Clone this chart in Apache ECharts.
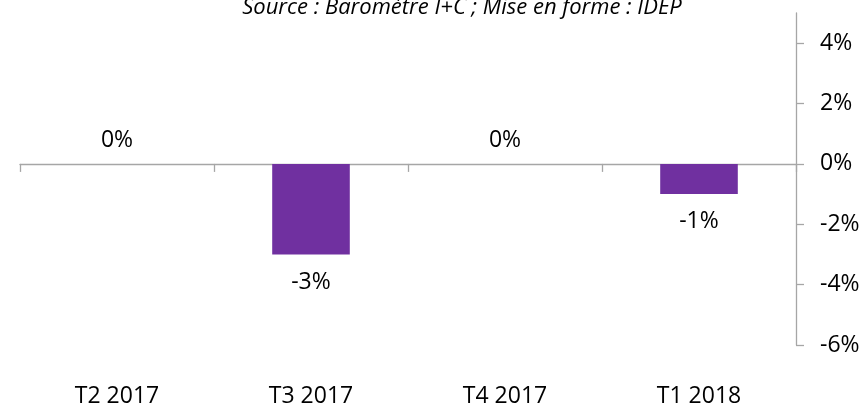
<!DOCTYPE html>
<html>
<head>
<meta charset="utf-8">
<script src="https://cdn.jsdelivr.net/npm/echarts@6/dist/echarts.min.js"></script>
<style>
html,body{margin:0;padding:0;background:#fff;}
#c{width:866px;height:408px;}
</style>
</head>
<body>
<div id="c"></div>
<script>
const categories = ['T2 2017', 'T3 2017', 'T4 2017', 'T1 2018'];
const values = [0, -3, 0, -1];
const yTicks = [-6, -4, -2, 0, 2, 4];
const titleText = 'Source : Baromètre I+C ; Mise en forme : IDEP';

const FONT = 'Open Sans';
const chart = echarts.init(document.getElementById('c'), null, {renderer: 'canvas'});
const barData = values.map(v => ({
  value: v,
  label: { position: v < 0 ? 'bottom' : 'top', distance: v < 0 ? 16 : 12 }
}));
chart.setOption({
  animation: false,
  backgroundColor: '#ffffff',
  title: {
    text: titleText,
    left: 457, top: -8,
    textAlign: 'center',
    textStyle: { fontFamily: FONT, fontStyle: 'italic', fontWeight: 'normal', fontSize: 22, color: '#000' }
  },
  grid: { left: 20, right: 70, top: 13, bottom: 61, containLabel: false },
  xAxis: [
    {
      type: 'category', data: categories, position: 'bottom',
      axisLine: { onZero: true, lineStyle: { color: '#a6a6a6', width: 1.3 } },
      axisTick: { show: true, length: 8, lineStyle: { color: '#a6a6a6', width: 1.3 } },
      axisLabel: { show: false },
      splitLine: { show: false }
    },
    {
      type: 'category', data: categories, position: 'bottom',
      axisLine: { show: false, onZero: false },
      axisTick: { show: false },
      axisLabel: { show: true, margin: 40, fontFamily: FONT, fontSize: 23, color: '#000' },
      splitLine: { show: false }
    }
  ],
  yAxis: {
    type: 'value', position: 'right', min: -6, max: 5,
    axisLine: { show: true, lineStyle: { color: '#a6a6a6', width: 1.3 } },
    axisTick: { show: true, length: 8, customValues: yTicks, lineStyle: { color: '#a6a6a6', width: 1.3 } },
    axisLabel: { customValues: yTicks, margin: 24, fontFamily: FONT, fontSize: 23, color: '#000', formatter: v => v + '%' },
    splitLine: { show: false }
  },
  series: [{
    type: 'bar', xAxisIndex: 0, yAxisIndex: 0,
    data: barData,
    barCategoryGap: '60%',
    itemStyle: { color: '#7030a0' },
    label: { show: true, fontFamily: FONT, fontSize: 23, color: '#000', formatter: p => p.value + '%' }
  }]
});
</script>
</body>
</html>
